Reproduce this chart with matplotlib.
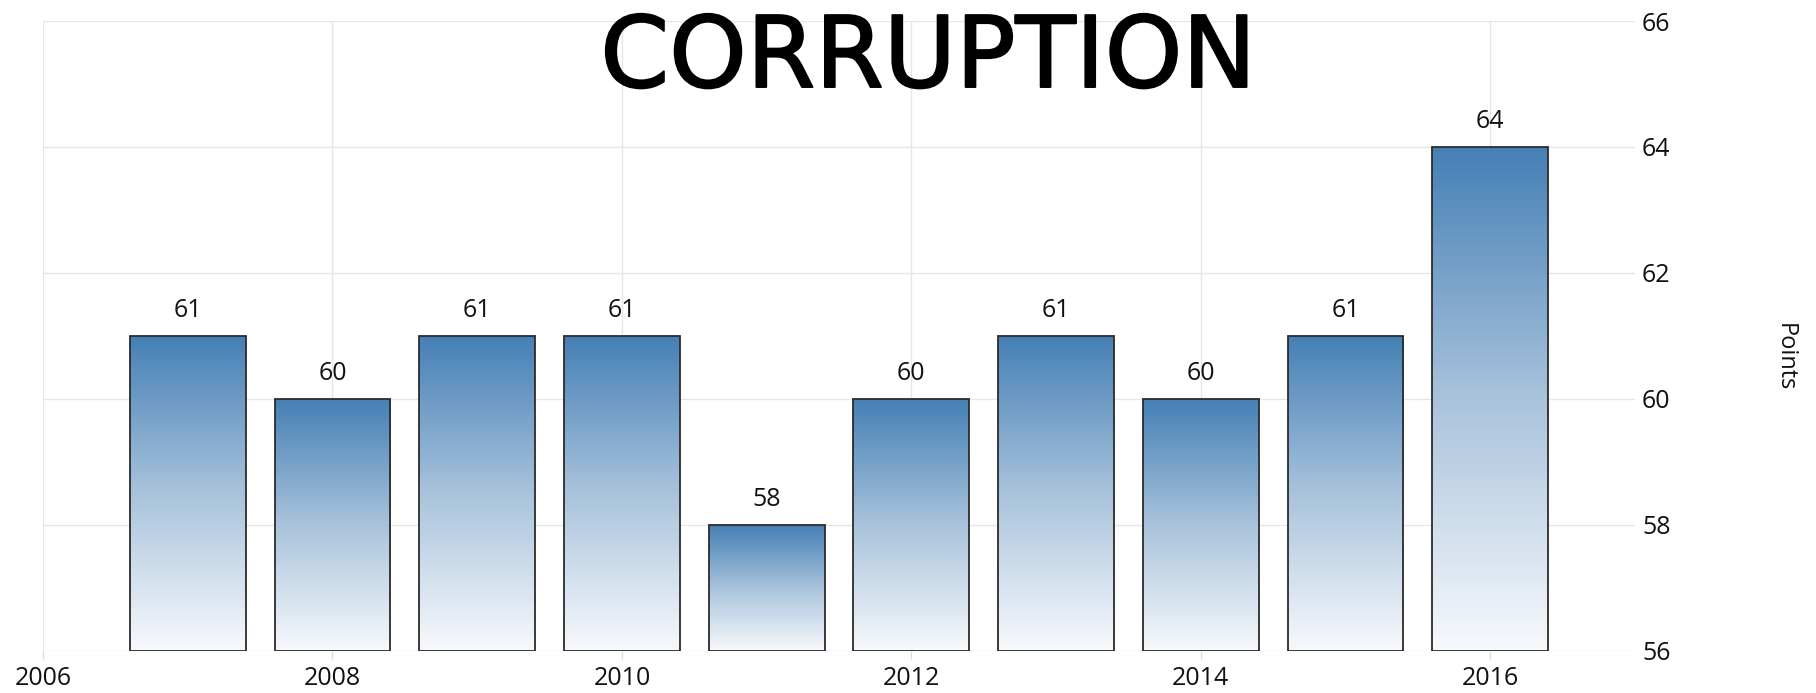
import matplotlib
matplotlib.use("Agg")
import matplotlib.pyplot as plt
import matplotlib.patheffects as pe
import numpy as np
from matplotlib.colors import LinearSegmentedColormap

years = [2007, 2008, 2009, 2010, 2011, 2012, 2013, 2014, 2015, 2016]
values = [61, 60, 61, 61, 58, 60, 61, 60, 61, 64]
xticks = [2006, 2008, 2010, 2012, 2014, 2016]
yticks = [56, 58, 60, 62, 64, 66]
title = "CORRUPTION"
ylabel = "Points"

plt.rcParams['font.family'] = ['Open Sans', 'DejaVu Sans']

fig = plt.figure(figsize=(18.16, 6.93), dpi=100)
ax = fig.add_axes([43/1816, 1-651/693, (1635-43)/1816, (651-21)/693])

ax.set_xlim(2006, 2017)
ax.set_ylim(56, 66)
base = 56

bars = ax.bar(years, [v - base for v in values], bottom=base, width=0.8,
              facecolor='none', edgecolor='#2b2b2b', linewidth=1.3, zorder=3)

cmap = LinearSegmentedColormap.from_list('g', ['#f7f9fc', '#a9c3dc', '#4580b5'])
grad = np.linspace(0, 1, 256).reshape(-1, 1)
for b in bars:
    x0, y0 = b.get_x(), b.get_y()
    w, h = b.get_width(), b.get_height()
    im = ax.imshow(grad, cmap=cmap, aspect='auto', origin='lower',
                   extent=(x0, x0 + w, y0, y0 + h), zorder=2)
    im.set_clip_path(b)

for yr, v in zip(years, values):
    ax.annotate(str(v), (yr, v), xytext=(0, 14), textcoords='offset points',
                ha='center', va='baseline', fontsize=18, color='#111111', zorder=4)

ax.set_xticks(xticks)
ax.set_yticks(yticks)
ax.yaxis.tick_right()
ax.tick_params(axis='y', length=0, pad=5, labelsize=18, labelcolor='#111111')
ax.tick_params(axis='x', length=6, width=1, color='#dddddd', pad=5,
               labelsize=18, labelcolor='#111111')
ax.grid(True, color='#e6e6e6', linewidth=1, zorder=0)
ax.set_axisbelow(True)
for s in ax.spines.values():
    s.set_visible(False)

fig.text(1785/1816, 1-357/693, ylabel, rotation=270, ha='center', va='center',
         fontsize=17, color='#111111')

fig.text(928/1816, 1-87/693, title, ha='center', va='baseline', fontsize=71,
         color='black', family='DejaVu Sans',
         path_effects=[pe.withStroke(linewidth=1.4, foreground='black')])

fig.savefig('out.png', dpi=100, facecolor='white')
